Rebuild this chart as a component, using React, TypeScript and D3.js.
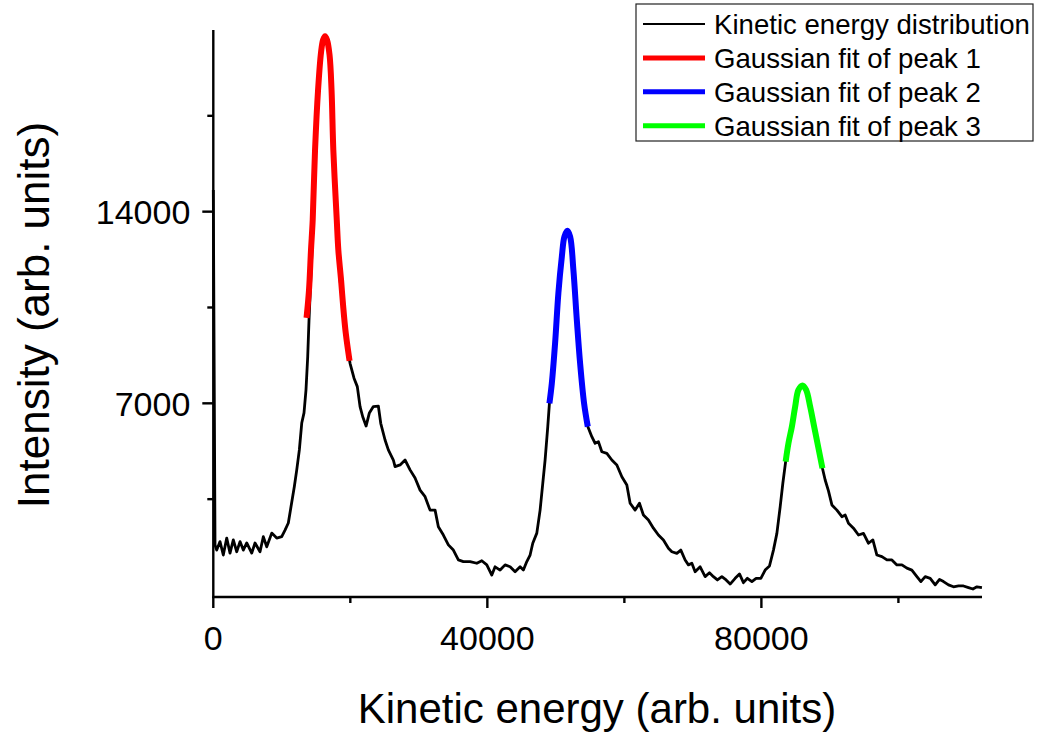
import React from "react";
import * as d3 from "d3";

// Kinetic energy distribution
const keX = [0, 250, 500, 980, 1460, 1960, 2440, 2920, 3420, 3900, 4380, 4880, 5610, 6090, 6820, 7300, 7800, 8530, 9260, 9990, 10470, 10950, 11340, 11830, 12180, 12560, 12910, 13240, 13530, 13780, 13970,
  14410, 14850, 15430, 15870, 16310, 16750, 17190, 17550, 18060, 18500, 18940, 19370, 19880,
  19960, 20540, 21020, 21420, 21810, 22300, 22780, 23360, 24090, 24440, 25070, 25550, 26280, 26530, 27260, 27990, 28720, 29450, 30180, 30910, 31640, 32370, 32850, 33580, 34310, 35040, 35770, 36500, 37480, 38460, 39190, 39920, 40650, 41130, 41860, 42590, 43320, 44050, 44780, 45260, 45760, 46240, 46630, 47220, 47700, 48090, 48430, 48820, 49060,
  49410, 49890, 50370, 50870, 51250, 51680, 52080, 52560, 53060, 53540, 54120, 54660,
  55250, 55730, 56210, 56710, 57440, 58170, 58900, 59630, 60360, 60840, 61570, 62200, 62780, 63510, 64240, 64970, 65700, 66430, 66930, 67660, 68240, 68870, 69350, 69850, 70330, 71060, 71790, 72420, 73000, 73580, 74230, 74850, 75440, 76170, 76800, 77380, 77960, 78610, 79230, 79920, 80550, 81180, 81760, 82260, 82740, 83130, 83540,
  83950, 84450, 84930, 85410, 86000, 86530, 87120, 87700, 88330, 88910,
  89310, 89790, 90290, 91020, 91750, 92230, 92710, 93440, 94170, 94900, 95630, 96270, 96860, 97590, 98320, 99050, 99780, 100510, 101240, 101960, 102700, 103280, 103910, 104640, 105370, 106000, 106580, 107310, 108040, 108770, 109500, 110230, 110870, 111460, 112190];
const keY = [14790, 1830, 1640, 1950, 1460, 2080, 1530, 2010, 1580, 1950, 1640, 1900, 1530, 1900, 1580, 2130, 1760, 2260, 2080, 2130, 2370, 2630, 3220, 3960, 4570, 5300, 6280, 6650, 7490, 8700, 10040,
  12600, 16250, 19170, 20090, 20380, 20090, 18810, 16250, 13330, 11500, 10410, 9500, 8580,
  8460, 7920, 7610, 6880, 6510, 6170, 6650, 6880, 6900, 6270, 5660, 5300, 4930, 4690, 4750, 4930, 4570, 4270, 3830, 3590, 3100, 3100, 2490, 2190, 1830, 1640, 1280, 1220, 1220, 1160, 1250, 1100, 730, 1030, 910, 1100, 1030, 850, 1030, 910, 1220, 1460, 1890, 2260, 3100, 4080, 4930, 6150, 7000,
  7730, 9200, 11030, 12350, 13090, 13300, 13090, 11870, 10040, 8460, 7000, 6150,
  5780, 5540, 5600, 5230, 5170, 4930, 4750, 4320, 4020, 3350, 3100, 3350, 2920, 2740, 2440, 2190, 2010, 1710, 1580, 1520, 1640, 1280, 1100, 1160, 850, 1030, 670, 810, 670, 550, 670, 550, 400, 610, 770, 450, 610, 490, 610, 610, 910, 1060, 1640, 2250, 3220, 4080, 4870,
  5540, 6150, 6880, 7490, 7670, 7490, 6880, 6150, 5360, 4630,
  4200, 3800, 3290, 3100, 2860, 2920, 2620, 2440, 2190, 2250, 1890, 2010, 1460, 1400, 1280, 1280, 1100, 1100, 980, 910, 670, 490, 670, 610, 370, 570, 490, 370, 300, 330, 330, 270, 220, 300, 270];

// Gaussian fits
const fit1X = [13610, 13970, 14260, 14510, 14850, 15290, 15730, 16020, 16310, 16600, 16970, 17260, 17520, 18020, 18250, 18650, 18940, 19330, 19890];
const fit1Y = [10120, 11140, 12600, 13700, 16250, 18440, 19830, 20270, 20410, 20270, 19720, 18440, 16250, 13700, 12600, 11500, 10590, 9570, 8550];
const fit2X = [49060, 49410, 49890, 50370, 50870, 51250, 51680, 52080, 52560, 53060, 53540, 54120, 54660];
const fit2Y = [7000, 7730, 9200, 11030, 12350, 13090, 13300, 13090, 11870, 10040, 8460, 7000, 6150];
const fit3X = [83540, 83950, 84450, 84930, 85410, 86000, 86530, 87120, 87700, 88330, 88910];
const fit3Y = [4870, 5540, 6150, 6880, 7490, 7650, 7490, 6880, 6150, 5360, 4630];

const xMajorTicks = [0, 40000, 80000];
const xMinorTicks = [20000, 60000, 100000];
const yMajorTicks = [7000, 14000];
const yMinorTicks = [3500, 10500, 17500];

const legendLabels = ["Kinetic energy distribution", "Gaussian fit of peak 1", "Gaussian fit of peak 2", "Gaussian fit of peak 3"];
const legendColors = ["#000000", "#ff0000", "#0000ff", "#00ff00"];

const W = 1037;
const H = 734;
const FONT = "'Liberation Sans', Arial, sans-serif";

export default function App() {
  const x = d3.scaleLinear().domain([0, 112200]).range([213.3, 982]);
  const y = d3.scaleLinear().domain([-73, 20634]).range([597, 30]);

  const line = d3
    .line<[number, number]>()
    .x((d) => x(d[0]))
    .y((d) => y(d[1]));
  const smooth = d3
    .line<[number, number]>()
    .x((d) => x(d[0]))
    .y((d) => y(d[1]))
    .curve(d3.curveCatmullRom.alpha(0.5));

  const ke = keX.map((v, i) => [v, keY[i]] as [number, number]);
  const fits = [
    { xs: fit1X, ys: fit1Y, c: legendColors[1] },
    { xs: fit2X, ys: fit2Y, c: legendColors[2] },
    { xs: fit3X, ys: fit3Y, c: legendColors[3] },
  ];

  const x0 = x(0);
  const yBase = 597;

  return (
    <svg
      width={W}
      height={H}
      style={{ position: "absolute", left: 0, top: 0, background: "#fff" }}
      fontFamily={FONT}
    >
      <rect x={0} y={0} width={W} height={H} fill="#fff" />
      {/* data */}
      <path d={line(ke) || ""} fill="none" stroke="#000" strokeWidth={2.8} strokeLinejoin="round" />
      {fits.map((f, k) => (
        <path
          key={k}
          d={smooth(f.xs.map((v, i) => [v, f.ys[i]] as [number, number])) || ""}
          fill="none"
          stroke={f.c}
          strokeWidth={6}
          strokeLinejoin="round"
        />
      ))}

      {/* axes */}
      <line x1={x0} x2={x0} y1={30} y2={yBase + 1} stroke="#000" strokeWidth={2.4} />
      <line x1={x0 - 1} x2={x(112200)} y1={yBase} y2={yBase} stroke="#000" strokeWidth={2.4} />
      {yMajorTicks.map((t) => (
        <g key={"ym" + t}>
          <line x1={x0 - 11} x2={x0} y1={y(t)} y2={y(t)} stroke="#000" strokeWidth={2.4} />
          <text x={x0 - 23} y={y(t)} dy="0.36em" textAnchor="end" fontSize={34}>
            {t}
          </text>
        </g>
      ))}
      {yMinorTicks.map((t) => (
        <line key={"yn" + t} x1={x0 - 6} x2={x0} y1={y(t)} y2={y(t)} stroke="#000" strokeWidth={2.4} />
      ))}
      {xMajorTicks.map((t) => (
        <g key={"xm" + t}>
          <line x1={x(t)} x2={x(t)} y1={yBase} y2={yBase + 11} stroke="#000" strokeWidth={2.4} />
          <text x={x(t)} y={650} textAnchor="middle" fontSize={34}>
            {t}
          </text>
        </g>
      ))}
      {xMinorTicks.map((t) => (
        <line key={"xn" + t} x1={x(t)} x2={x(t)} y1={yBase} y2={yBase + 6} stroke="#000" strokeWidth={2.4} />
      ))}

      {/* axis titles */}
      <text x={597} y={723} textAnchor="middle" fontSize={42}>
        Kinetic energy (arb. units)
      </text>
      <text
        transform={`translate(49, 315) rotate(-90)`}
        textAnchor="middle"
        fontSize={44}
      >
        Intensity (arb. units)
      </text>

      {/* legend */}
      <rect x={636} y={4} width={397} height={137} fill="#fff" stroke="#222" strokeWidth={1.2} />
      {legendLabels.map((lab, i) => {
        const cy = 24 + i * 33.9;
        return (
          <g key={lab}>
            <line x1={643} x2={705} y1={cy} y2={cy} stroke={legendColors[i]} strokeWidth={i === 0 ? 2.2 : 5} />
            <text x={714} y={cy} dy="0.36em" fontSize={27.6}>
              {lab}
            </text>
          </g>
        );
      })}
    </svg>
  );
}
